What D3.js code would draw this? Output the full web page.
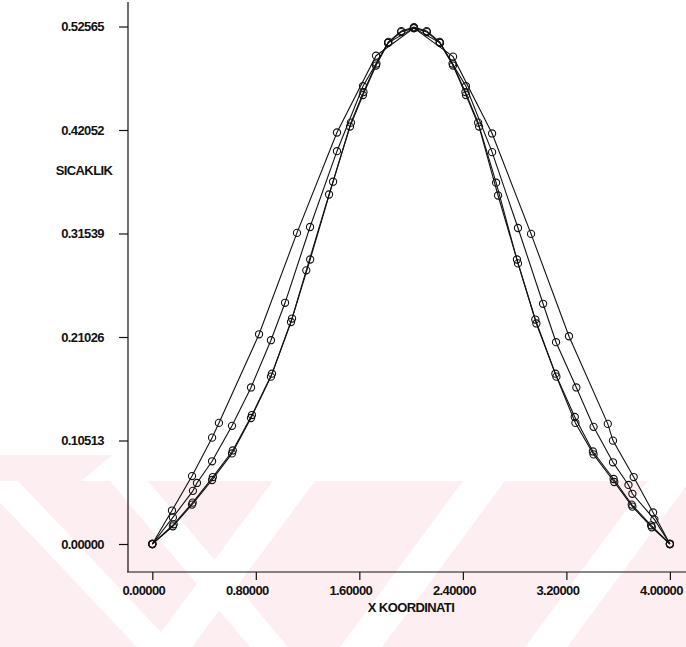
<!DOCTYPE html>
<html>
<head>
<meta charset="utf-8">
<script src="https://cdn.jsdelivr.net/npm/d3@7"></script>
<style>
  html, body { margin: 0; padding: 0; background: #fff; }
  svg { display: block; }
  text { font-family: "Liberation Sans", Arial, sans-serif; font-weight: bold; fill: #111; }
</style>
</head>
<body>
<svg id="chart" width="686" height="647"></svg>
<script>
// ---------- data ----------
const xTicks = [0, 0.8, 1.6, 2.4, 3.2, 4.0];
const xTickLabels = ["0.00000", "0.80000", "1.60000", "2.40000", "3.20000", "4.00000"];
const yTicks = [0, 0.10513, 0.21026, 0.31539, 0.42052, 0.52565];
const yTickLabels = ["0.00000", "0.10513", "0.21026", "0.31539", "0.42052", "0.52565"];
const xTitle = "X KOORDINATI";
const yTitle = "SICAKLIK";

// outer curve
const xA = [0, 0.152, 0.307, 0.462, 0.515, 0.825, 1.118, 1.427, 1.729, 2.022, 2.324, 2.626, 2.927, 3.220, 3.520, 3.560, 3.720, 3.870, 4.000];
const yA = [0, 0.034, 0.069, 0.108, 0.123, 0.213, 0.316, 0.418, 0.496, 0.524, 0.495, 0.417, 0.315, 0.211, 0.122, 0.105, 0.068, 0.032, 0];
// second curve
const xB = [0, 0.159, 0.314, 0.345, 0.462, 0.616, 0.763, 0.917, 1.026, 1.219, 1.427, 1.628, 1.822, 2.022, 2.223, 2.424, 2.626, 2.826, 3.020, 3.120, 3.277, 3.410, 3.560, 3.680, 3.710, 3.880, 4.000];
const yB = [0, 0.027, 0.054, 0.062, 0.084, 0.120, 0.159, 0.207, 0.245, 0.322, 0.399, 0.465, 0.509, 0.524, 0.509, 0.465, 0.398, 0.321, 0.244, 0.205, 0.159, 0.119, 0.083, 0.060, 0.051, 0.025, 0];
// inner curve
const xC = [0, 0.159, 0.307, 0.462, 0.616, 0.763, 0.917, 1.072, 1.190, 1.366, 1.528, 1.628, 1.729, 1.822, 1.922, 2.022, 2.122, 2.223, 2.324, 2.424, 2.525, 2.672, 2.818, 2.968, 3.123, 3.270, 3.410, 3.570, 3.710, 3.860, 4.000];
const yC = [0, 0.018, 0.040, 0.065, 0.092, 0.128, 0.170, 0.2255, 0.278, 0.355, 0.424, 0.456, 0.486, 0.509, 0.520, 0.524, 0.520, 0.509, 0.486, 0.456, 0.424, 0.354, 0.289, 0.224, 0.170, 0.123, 0.091, 0.063, 0.038, 0.017, 0];
// inner twin curve
const xD = [0, 0.165, 0.312, 0.468, 0.622, 0.770, 0.925, 1.080, 1.220, 1.397, 1.535, 1.632, 1.732, 1.825, 1.925, 2.022, 2.120, 2.220, 2.320, 2.420, 2.518, 2.657, 2.826, 2.960, 3.115, 3.265, 3.405, 3.565, 3.705, 3.855, 4.000];
const yD = [0, 0.020, 0.042, 0.068, 0.095, 0.131, 0.173, 0.229, 0.289, 0.368, 0.428, 0.459, 0.488, 0.510, 0.521, 0.525, 0.521, 0.510, 0.488, 0.459, 0.428, 0.367, 0.285, 0.228, 0.173, 0.129, 0.094, 0.066, 0.040, 0.019, 0];

const series = [
  { name: "A", xs: xA, ys: yA },
  { name: "B", xs: xB, ys: yB },
  { name: "C", xs: xC, ys: yC },
  { name: "D", xs: xD, ys: yD }
];

// ---------- drawing ----------
const svg = d3.select("#chart");
const W = 686, H = 647;
const pink = "#fdeef2";

// background watermark (pale pink band with white diagonal stripes)
const wm = svg.append("g").attr("class", "watermark");
const bandTop = 481, bandBot = H;
wm.append("rect").attr("x", 0).attr("y", bandTop).attr("width", W).attr("height", bandBot - bandTop).attr("fill", pink);
wm.append("polygon").attr("points", "0,455 112,455 0,548").attr("fill", pink);
const slash = [150, 340, 525, 705];
slash.forEach(b => {
  const dx = (bandBot - bandTop) / 1.35;
  wm.append("polygon")
    .attr("points", `${b},${bandBot} ${b + 42},${bandBot} ${b + 42 + dx},${bandTop} ${b + dx},${bandTop}`)
    .attr("fill", "#fff");
});
const back = [[-20, 137], [110, 250]];
back.forEach(([t, b]) => {
  wm.append("polygon")
    .attr("points", `${t},${bandTop} ${t + 38},${bandTop} ${b + 38},${bandBot} ${b},${bandBot}`)
    .attr("fill", "#fff");
});

const x = d3.scaleLinear().domain([0, 4]).range([152.3, 669.9]);
const y = d3.scaleLinear().domain([0, 0.52565]).range([544, 26.5]);

const axisColor = "#111";
const fontSize = 13;
const spacing = "-0.6px";
// axis frame lines
svg.append("line").attr("x1", 128).attr("x2", 128).attr("y1", 2).attr("y2", 572)
  .attr("stroke", axisColor).attr("stroke-width", 1.2);
svg.append("line").attr("x1", 127).attr("x2", 686).attr("y1", 572).attr("y2", 572)
  .attr("stroke", axisColor).attr("stroke-width", 1.2);

// y axis
const yAxis = d3.axisLeft(y).tickValues(yTicks).tickSize(9).tickPadding(15)
  .tickFormat((d, i) => yTickLabels[i]);
const gy = svg.append("g").attr("transform", "translate(128,0)").call(yAxis);
gy.select(".domain").remove();
gy.selectAll(".tick line").attr("stroke", axisColor).attr("stroke-width", 1.2);
gy.selectAll(".tick text").attr("font-size", fontSize).attr("font-family", "Liberation Sans, Arial, sans-serif")
  .attr("font-weight", "bold").attr("fill", "#111").style("letter-spacing", spacing);

// x axis
const xAxis = d3.axisBottom(x).tickValues(xTicks).tickSize(8).tickPadding(6)
  .tickFormat((d, i) => xTickLabels[i]);
const gx = svg.append("g").attr("transform", "translate(0,572)").call(xAxis);
gx.select(".domain").remove();
gx.selectAll(".tick line").attr("stroke", axisColor).attr("stroke-width", 1.2);
gx.selectAll(".tick text").attr("font-size", fontSize).attr("font-family", "Liberation Sans, Arial, sans-serif")
  .attr("font-weight", "bold").attr("fill", "#111").style("letter-spacing", spacing)
  .attr("dx", -9);

// titles
svg.append("text").attr("x", 84).attr("y", 175).attr("text-anchor", "middle")
  .attr("font-size", fontSize).style("letter-spacing", spacing).text(yTitle);
svg.append("text").attr("x", 411).attr("y", 612).attr("text-anchor", "middle")
  .attr("font-size", fontSize).style("letter-spacing", spacing).text(xTitle);

// curves
const line = d3.line().x(d => x(d[0])).y(d => y(d[1]));
const gLines = svg.append("g");
series.forEach(s => {
  const pts = s.xs.map((v, i) => [v, s.ys[i]]);
  gLines.append("path").datum(pts).attr("d", line)
    .attr("fill", "none").attr("stroke", "#111").attr("stroke-width", 1.1);
});
const gPts = svg.append("g");
series.forEach(s => {
  const pts = s.xs.map((v, i) => [v, s.ys[i]]);
  gPts.selectAll(null).data(pts).enter().append("circle")
    .attr("cx", d => x(d[0])).attr("cy", d => y(d[1])).attr("r", 3.6)
    .attr("fill", "none").attr("stroke", "#111").attr("stroke-width", 1.1);
});
</script>
</body>
</html>
